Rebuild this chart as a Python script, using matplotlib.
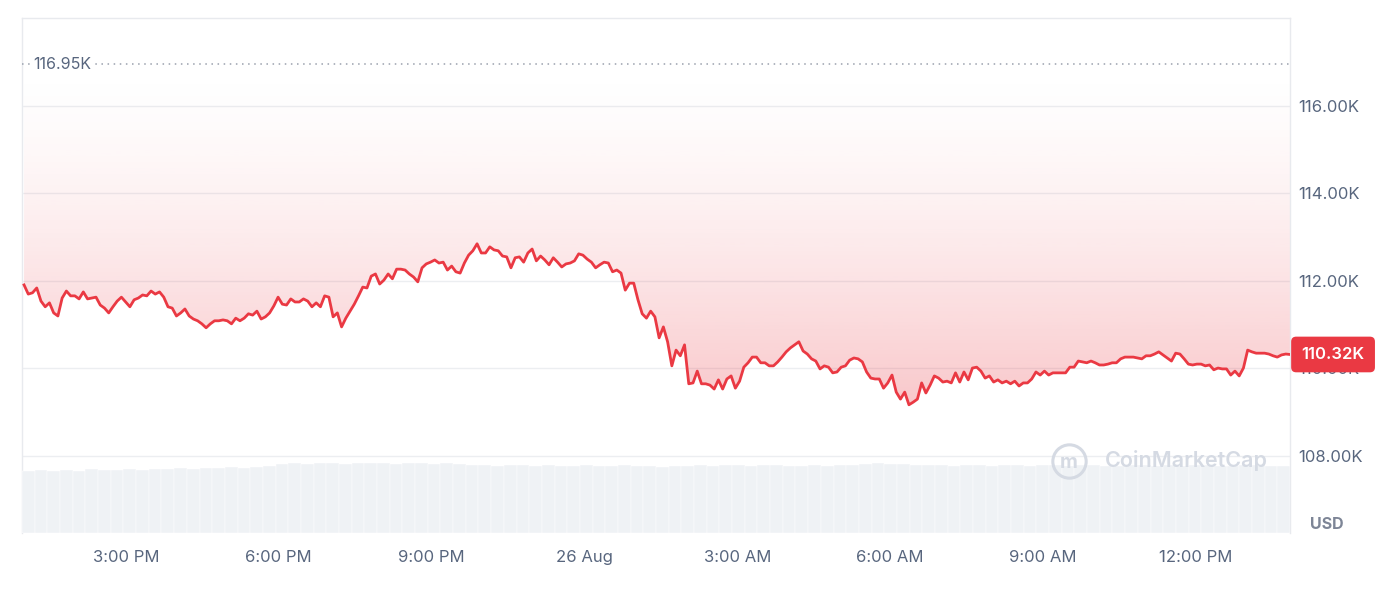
import numpy as np
import pandas as pd
import matplotlib
matplotlib.use('Agg')
from matplotlib import pyplot
import matplotlib.dates as mdates

pyplot.rcParams['font.family'] = ['Inter', 'DejaVu Sans']

RED = '#ea3943'
GRID = '#eceef1'
TEXT = '#58667e'
VOLUME_GREY = '#eff2f5'

REFERENCE_PRICE = 116950
LAST_PRICE = 110320

START = pd.Timestamp('2025-08-25 13:00')
END = pd.Timestamp('2025-08-26 13:51')
VIEW_START = pd.Timestamp('2025-08-25 12:57:36')

# BTC price, USD, ~5 min steps
prices = [
    111910, 111700, 111730, 111840, 111540, 111410, 111500, 111270, 111200, 111610,
    111770, 111660, 111660, 111590, 111750, 111590, 111610, 111630, 111450, 111380,
    111270, 111410, 111540, 111630, 111520, 111410, 111570, 111610, 111680, 111660,
    111770, 111700, 111750, 111630, 111410, 111380, 111200, 111270, 111360, 111200,
    111130, 111090, 111020, 110930, 111020, 111090, 111090, 111110, 111090, 111020,
    111150, 111090, 111150, 111250, 111220, 111310, 111130, 111180, 111270, 111430,
    111630, 111470, 111450, 111590, 111520, 111520, 111590, 111540, 111410, 111500,
    111410, 111660, 111630, 111180, 111270, 110950, 111150, 111310, 111470, 111660,
    111860, 111840, 112110, 112160, 111930, 112020, 112160, 112050, 112270, 112270,
    112250, 112160, 112090, 111980, 112300, 112390, 112430, 112480, 112410, 112430,
    112250, 112340, 112210, 112180, 112410, 112590, 112690, 112850, 112640, 112640,
    112780, 112710, 112690, 112570, 112550, 112300, 112530, 112550, 112430, 112640,
    112730, 112460, 112570, 112480, 112370, 112530, 112430, 112320, 112390, 112410,
    112460, 112620, 112590, 112500, 112430, 112300, 112370, 112430, 112410, 112210,
    112250, 112180, 111790, 111950, 111950, 111570, 111250, 111150, 111310, 111180,
    110700, 110950, 110610, 110060, 110420, 110290, 110540, 109650, 109670, 109940,
    109650, 109650, 109620, 109530, 109740, 109530, 109760, 109830, 109550, 109710,
    110030, 110130, 110260, 110260, 110130, 110130, 110060, 110060, 110150, 110260,
    110380, 110470, 110540, 110610, 110400, 110330, 110220, 110170, 109990, 110060,
    110030, 109900, 109920, 110030, 110060, 110190, 110240, 110220,
    110150, 109920, 109780, 109760, 109760, 109550, 109670, 109850, 109460, 109300,
    109460, 109170, 109230, 109300, 109670, 109440, 109620, 109830, 109780, 109690,
    109710, 109670, 109900, 109690, 109920, 109740, 110010, 110030, 109940, 109780,
    109830, 109690, 109740, 109670, 109710, 109650, 109710, 109600, 109670, 109670,
    109760, 109920, 109850, 109940, 109850, 109900, 109900, 109900, 109900, 110030,
    110030, 110170, 110150, 110130, 110170, 110130, 110080, 110080, 110100, 110130,
    110130, 110220, 110260, 110260, 110260, 110240, 110220, 110290, 110290, 110330,
    110380, 110310, 110240, 110170, 110350, 110330, 110220, 110100, 110080, 110100,
    110100, 110060, 110080, 109970, 110010, 109990, 109990, 109850, 109940, 109830,
    110010, 110420, 110380, 110350, 110350, 110350, 110330, 110290, 110260, 110310,
    110330, 110320,
]

# relative volume, one bar per ~15 min
volumes = [
    6.2, 6.3, 6.2, 6.3, 6.2, 6.4, 6.3, 6.3, 6.4, 6.3,
    6.4, 6.4, 6.5, 6.4, 6.5, 6.5, 6.6, 6.5,
    6.6, 6.7, 6.9,
    7.0, 6.9, 7.0, 7.0, 6.9, 7.0, 7.0, 7.0, 6.9, 7.0, 7.0, 6.9, 7.0, 6.9, 6.8,
    6.8, 6.7, 6.8, 6.8, 6.7, 6.8, 6.7, 6.7, 6.8, 6.7, 6.7, 6.8,
    6.7, 6.7, 6.6, 6.7, 6.7, 6.8, 6.7, 6.8, 6.8, 6.7, 6.8, 6.8, 6.7, 6.7, 6.8, 6.7, 6.8, 6.8,
    6.9, 7.0, 6.9, 6.9, 6.8,
    6.8, 6.8, 6.7, 6.8, 6.8, 6.7, 6.8, 6.8, 6.7, 6.8,
    6.8, 6.7, 6.8, 6.8, 6.7, 6.7, 6.8, 6.8, 6.7, 6.8,
    6.7, 6.8, 6.8, 6.7, 6.7, 6.8, 6.8, 6.7, 6.7,
]

y_ticks = [108000, 110000, 112000, 114000, 116000]
y_tick_labels = ['108.00K', '110.00K', '112.00K', '114.00K', '116.00K']
x_ticks = pd.to_datetime(['2025-08-25 15:00', '2025-08-25 18:00', '2025-08-25 21:00',
                          '2025-08-26 00:00', '2025-08-26 03:00', '2025-08-26 06:00',
                          '2025-08-26 09:00', '2025-08-26 12:00'])
x_tick_labels = ['3:00 PM', '6:00 PM', '9:00 PM', '26 Aug', '3:00 AM', '6:00 AM',
                 '9:00 AM', '12:00 PM']

Y_LOW, Y_HIGH = 106240, 118010


def DrawChart():
    fig = pyplot.figure(figsize=(13.98, 6.06), dpi=100)
    ax = fig.add_axes([22 / 1398, 1 - 533 / 606, 1268 / 1398, 515 / 606])

    # volume bars on a twin axis (created first so the price ticks stay on the right)
    ax2 = ax.twinx()
    edges = pd.date_range(VIEW_START, END, periods=len(volumes) + 1)
    width = (edges[1] - edges[0]) / pd.Timedelta(days=1)
    ax2.bar(edges[:-1], volumes, width=width, align='edge', color=VOLUME_GREY,
            edgecolor='white', linewidth=0.3)
    ax2.set_ylim(0, 51.5)
    ax2.set_xlim(VIEW_START, END)
    ax2.set_axis_off()

    times = pd.date_range(START, END, periods=len(prices))
    price_arr = np.array(prices, dtype=float)

    # gradient fill between the reference line and the price
    x0 = mdates.date2num(VIEW_START)
    x1 = mdates.date2num(END)
    grad = np.zeros((256, 1, 4))
    grad[:, 0, :3] = matplotlib.colors.to_rgb(RED)
    t = np.linspace(0, 1, 256)
    grad[:, 0, 3] = 0.28 * t ** 1.5
    im = ax.imshow(grad, extent=[x0, x1, price_arr.min(), REFERENCE_PRICE],
                   aspect='auto', origin='upper', zorder=1, interpolation='bilinear')
    poly = ax.fill_between(times, price_arr, REFERENCE_PRICE, color='none', lw=0)
    im.set_clip_path(poly.get_paths()[0], transform=ax.transData)

    ax.plot(times, price_arr, color=RED, lw=2.0, zorder=4, solid_joinstyle='round')

    # reference price dotted line + label
    ax.axhline(REFERENCE_PRICE, color='#9aa1ad', lw=1.1, ls=(0, (1, 3)), zorder=3)
    ax.annotate('116.95K', xy=(0, REFERENCE_PRICE), xycoords=('axes fraction', 'data'),
                xytext=(8, 0), textcoords='offset points', ha='left', va='center',
                fontsize=11.5, color=TEXT, zorder=5,
                bbox=dict(boxstyle='square,pad=0.2', fc='white', ec='none'))

    ax.set_xlim(VIEW_START, END)
    ax.set_ylim(Y_LOW, Y_HIGH)

    ax.yaxis.tick_right()
    ax.set_yticks(y_ticks)
    ax.set_yticklabels(y_tick_labels)
    ax.set_xticks(x_ticks)
    ax.set_xticklabels(x_tick_labels)
    ax.tick_params(axis='both', length=0, labelsize=12, labelcolor=TEXT)
    ax.tick_params(axis='y', pad=6, left=False, labelleft=False, right=False,
                   labelright=True)
    ax.tick_params(axis='x', pad=12)
    ax.grid(axis='y', color=GRID, lw=1)
    ax.set_axisbelow(True)

    for side in ['top', 'left', 'right']:
        ax.spines[side].set_color('#e8eaee')
        ax.spines[side].set_linewidth(1)
    ax.spines['bottom'].set_visible(False)

    # last price badge
    ax.annotate('110.32K', xy=(1, LAST_PRICE), xycoords=('axes fraction', 'data'),
                xytext=(31, 0), textcoords='offset points', ha='center', va='center',
                fontsize=12, color='white', fontweight='semibold', zorder=6,
                annotation_clip=False,
                bbox=dict(boxstyle='round,pad=0.62,rounding_size=0.3', fc=RED, ec='none'))

    ax.text(1.016, 0.002, 'USD', transform=ax.transAxes, ha='left', va='bottom',
            fontsize=11.5, fontweight='bold', color='#7d8596')

    # watermark
    ax2.text(0.854, 0.14, 'CoinMarketCap', transform=ax2.transAxes, ha='left',
             va='center', fontsize=15.5, fontweight='semibold', color='#d5dae3', zorder=5)
    ax2.plot([0.8257], [0.14], transform=ax2.transAxes, marker='o', ms=24, mfc='none',
             mec='#d5dae3', mew=2.2, zorder=5)
    ax2.text(0.8257, 0.135, 'm', transform=ax2.transAxes, ha='center', va='center',
             fontsize=14, fontweight='bold', color='#d5dae3', zorder=5)

    pyplot.savefig('out.png', dpi=100)
    pyplot.clf()


DrawChart()
